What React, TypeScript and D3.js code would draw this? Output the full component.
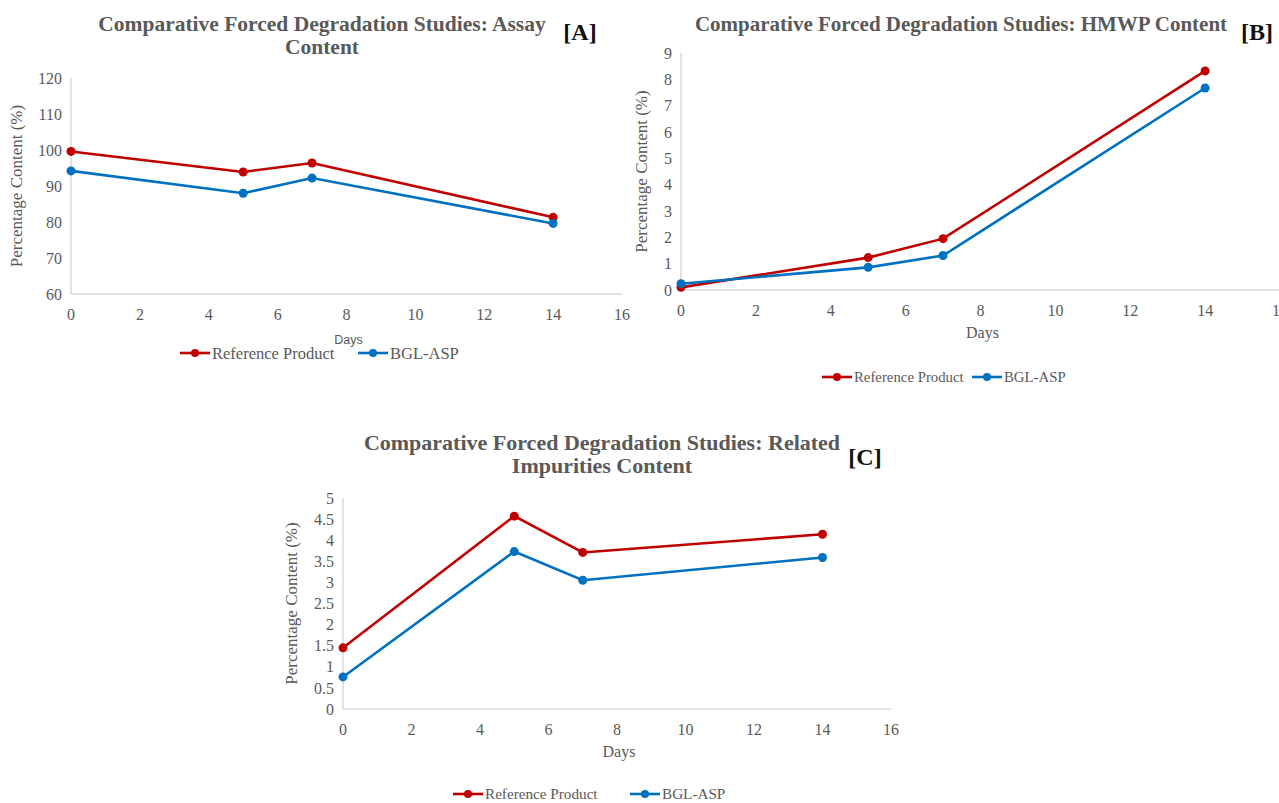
import React from "react";
import * as d3 from "d3";

const days = [0, 5, 7, 14];
const xTicks = [0, 2, 4, 6, 8, 10, 12, 14, 16];

const assayRef = [99.6, 93.9, 96.4, 81.3];
const assayBgl = [94.2, 88.0, 92.2, 79.6];
const assayTicks = [60, 70, 80, 90, 100, 110, 120];

const hmwpRef = [0.1, 1.23, 1.95, 8.32];
const hmwpBgl = [0.24, 0.86, 1.31, 7.67];
const hmwpTicks = [0, 1, 2, 3, 4, 5, 6, 7, 8, 9];

const impRef = [1.45, 4.57, 3.71, 4.14];
const impBgl = [0.76, 3.73, 3.05, 3.59];
const impTicks = [0, 0.5, 1, 1.5, 2, 2.5, 3, 3.5, 4, 4.5, 5];

const seriesNames = ["Reference Product", "BGL-ASP"];
const RED = "#c00000";
const BLUE = "#0070c0";
const GRAY_TEXT = "#595959";
const AXIS = "#d9d9d9";
const SERIF = "'Liberation Serif', 'DejaVu Serif', serif";
const SANS = "'Liberation Sans', 'Open Sans', sans-serif";

type PanelProps = {
  x0: number; x1: number; yTop: number; yBot: number;
  yDomain: [number, number]; yTicks: number[];
  ref_: number[]; bgl: number[];
  titleLines: string[]; titleX: number; titleY: number; titleSize: number;
  tag: string; tagX: number; tagY: number;
  yTitleX: number; daysY: number; daysFont: string;
  legendX: number; legendY: number; legendGap: number; legendSize: number;
};

function Panel(p: PanelProps) {
  const x = d3.scaleLinear().domain([0, 16]).range([p.x0, p.x1]);
  const y = d3.scaleLinear().domain(p.yDomain).range([p.yBot, p.yTop]);
  const line = d3.line<number>().x((_, i) => x(days[i])).y((v) => y(v));
  const series = [
    { name: seriesNames[0], values: p.ref_, color: RED },
    { name: seriesNames[1], values: p.bgl, color: BLUE },
  ];
  const fmt = (v: number) => String(v);
  return (
    <g>
      {p.titleLines.map((t, i) => (
        <text key={i} x={p.titleX} y={p.titleY + i * 23} textAnchor="middle"
          fontFamily={SERIF} fontWeight="bold" fontSize={p.titleSize} fill={GRAY_TEXT}>{t}</text>
      ))}
      <text x={p.tagX} y={p.tagY} textAnchor="middle" fontFamily={SERIF}
        fontWeight="bold" fontSize={24} fill="#111">{p.tag}</text>
      <line x1={p.x0} x2={p.x0} y1={p.yTop} y2={p.yBot} stroke={AXIS} strokeWidth={1.5} />
      <line x1={p.x0} x2={p.x1} y1={p.yBot} y2={p.yBot} stroke={AXIS} strokeWidth={1.5} />
      {p.yTicks.map((t) => (
        <text key={t} x={p.x0 - 9} y={y(t)} dy="0.35em" textAnchor="end"
          fontFamily={SERIF} fontSize={16} fill={GRAY_TEXT}>{fmt(t)}</text>
      ))}
      {xTicks.map((t) => (
        <text key={t} x={x(t)} y={p.yBot + 20} dy="0.35em" textAnchor="middle"
          fontFamily={SERIF} fontSize={16} fill={GRAY_TEXT}>{fmt(t)}</text>
      ))}
      <text transform={`translate(${p.yTitleX},${(p.yTop + p.yBot) / 2}) rotate(-90)`}
        textAnchor="middle" fontFamily={SERIF} fontSize={17} fill={GRAY_TEXT}>Percentage Content (%)</text>
      <text x={(p.x0 + p.x1) / 2 + 2} y={p.daysY} textAnchor="middle" fontFamily={p.daysFont}
        fontSize={p.daysFont === SANS ? 12.5 : 16} fill={GRAY_TEXT}>Days</text>
      {series.map((s) => (
        <g key={s.name}>
          <path d={line(s.values) || ""} fill="none" stroke={s.color} strokeWidth={2.6} />
          {s.values.map((v, i) => (
            <circle key={i} cx={x(days[i])} cy={y(v)} r={4.5} fill={s.color} />
          ))}
        </g>
      ))}
      {series.map((s, i) => {
        const lx = p.legendX + i * p.legendGap;
        return (
          <g key={s.name}>
            <line x1={lx} x2={lx + 30} y1={p.legendY} y2={p.legendY} stroke={s.color} strokeWidth={2.6} />
            <circle cx={lx + 15} cy={p.legendY} r={4} fill={s.color} />
            <text x={lx + 32} y={p.legendY} dy="0.35em" fontFamily={SERIF} fontSize={p.legendSize}
              fill={GRAY_TEXT}>{s.name}</text>
          </g>
        );
      })}
    </g>
  );
}

export default function App() {
  return (
    <svg width={1279} height={803} style={{ position: "absolute", left: 0, top: 0, background: "#fff" }}>
      <rect width={1279} height={803} fill="#fff" />
      <Panel x0={71} x1={622} yTop={78} yBot={294} yDomain={[60, 120]} yTicks={assayTicks}
        ref_={assayRef} bgl={assayBgl}
        titleLines={["Comparative Forced Degradation Studies: Assay", "Content"]}
        titleX={322} titleY={31} titleSize={21.5} tag="[A]" tagX={580} tagY={40}
        yTitleX={22} daysY={344} daysFont={SANS}
        legendX={180} legendY={353} legendGap={178} legendSize={16.5} />
      <Panel x0={681} x1={1280} yTop={53} yBot={290} yDomain={[0, 9]} yTicks={hmwpTicks}
        ref_={hmwpRef} bgl={hmwpBgl}
        titleLines={["Comparative Forced Degradation Studies: HMWP Content"]}
        titleX={961} titleY={31} titleSize={21} tag="[B]" tagX={1257} tagY={40}
        yTitleX={647} daysY={338} daysFont={SERIF}
        legendX={822} legendY={377} legendGap={150} legendSize={14.8} />
      <Panel x0={343} x1={891} yTop={498} yBot={709} yDomain={[0, 5]} yTicks={impTicks}
        ref_={impRef} bgl={impBgl}
        titleLines={["Comparative Forced Degradation Studies: Related", "Impurities Content"]}
        titleX={602} titleY={450} titleSize={22} tag="[C]" tagX={865} tagY={465}
        yTitleX={297} daysY={757} daysFont={SERIF}
        legendX={453} legendY={794} legendGap={177} legendSize={15.2} />
    </svg>
  );
}
